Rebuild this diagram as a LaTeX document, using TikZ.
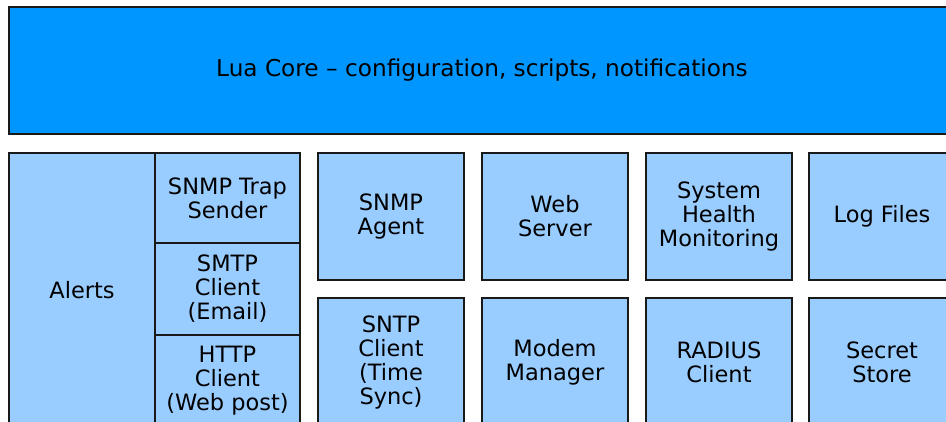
\documentclass[tikz,border=0pt]{standalone}
\usepackage{fontspec}
\setmainfont{DejaVu Sans}
\definecolor{coreblue}{RGB}{0,150,255}
\definecolor{boxblue}{RGB}{153,204,255}
\definecolor{edgegray}{RGB}{25,25,25}
\begin{document}
\begin{tikzpicture}[x=1pt,y=-1pt,
  block/.style={draw=edgegray, line width=1.8pt, fill=boxblue, inner sep=0pt,
    align=center, text=black, font=\fontsize{22.5}{24}\selectfont},
  core/.style={block, fill=coreblue, font=\fontsize{23.2}{26}\selectfont},
  sz/.style 2 args={minimum width=#1pt, minimum height=#2pt}]
\useasboundingbox (0,0) rectangle (946,422);
\clip (0,0) rectangle (946,422);

% scripting core across the top
\node[core, sz={946}{127}] (core) at (482,70.5)
  {Lua Core -- configuration, scripts, notifications};

% alerts group with its delivery channels
\node[block, sz={146}{274}] (alerts) at (82,290) {Alerts};
\node[block, sz={145}{90}]  (trap) at (227.5,198) {SNMP Trap\\Sender};
\node[block, sz={145}{92}]  (smtp) at (227.5,289) {SMTP\\Client\\(Email)};
\node[block, sz={145}{92}]  (http) at (227.5,381) {HTTP\\Client\\(Web post)};

% service blocks, upper row
\node[block, sz={146}{127}] (agent)  at (391,216.5) {SNMP\\Agent};
\node[block, sz={146}{127}] (web)    at (555,216.5) {Web\\Server};
\node[block, sz={146}{127}] (health) at (719,216.5) {System\\Health\\Monitoring};
\node[block, sz={146}{127}] (logs)   at (882,216.5) {Log Files};

% service blocks, lower row
\node[block, sz={146}{129}] (sntp)   at (391,362.5) {SNTP\\Client\\(Time\\Sync)};
\node[block, sz={146}{129}] (modem)  at (555,362.5) {Modem\\Manager};
\node[block, sz={146}{129}] (radius) at (719,362.5) {RADIUS\\Client};
\node[block, sz={146}{129}] (secret) at (882,362.5) {Secret\\Store};
\end{tikzpicture}
\end{document}
